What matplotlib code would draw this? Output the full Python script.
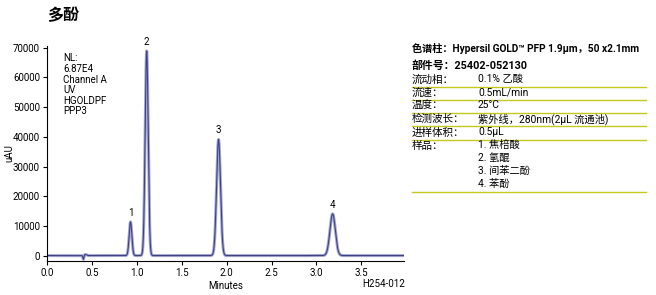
import numpy as np
import matplotlib.pyplot as plt

# peak table
peak_labels = ['1', '2', '3', '4']
peak_times = [0.93, 1.11, 1.91, 3.18]        # min
peak_heights = [11300, 68700, 39000, 14000]  # uAU
peak_widths = [0.015, 0.017, 0.022, 0.030]   # sigma, min

# injection disturbance near 0.41 min
dist_times = [0.405, 0.43]
dist_heights = [-1300, 350]
dist_widths = [0.005, 0.012]

info_lines = ['NL:', '6.87E4', 'Channel A', 'UV', 'HGOLDPF', 'PPP3']

table_header = ['色谱柱：Hypersil GOLD™ PFP 1.9μm，50 x2.1mm',
                '部件号：25402-052130']
table_keys = ['流动相：', '流速：', '温度：', '检测波长：', '进样体积：', '样品：']
table_vals = ['0.1% 乙酸', '0.5mL/min', '25°C', '紫外线，280nm(2μL 流通池)', '0.5μL',
              '1. 焦棓酸\n2. 氢醌\n3. 间苯二酚\n4. 苯酚']

fam = ['Roboto', 'Noto Sans CJK SC', 'DejaVu Sans']
cjk = ['Noto Sans CJK SC', 'DejaVu Sans']

t = np.linspace(0, 3.98, 4000)
y = np.full_like(t, 150.0)
for tc, h, s in zip(peak_times + dist_times, peak_heights + dist_heights,
                    peak_widths + dist_widths):
    y += h * np.exp(-0.5 * ((t - tc) / s) ** 2)

fig = plt.figure(figsize=(6.56, 2.95), dpi=100)
ax = fig.add_axes([0.0716, 0.115, 0.545, 0.73])

ax.plot(t, y, color='#a7a9d2', lw=2.2, solid_capstyle='round')
ax.plot(t, y, color='#3e4282', lw=0.8)

for lab, tc, h in zip(peak_labels, peak_times, peak_heights):
    ax.text(tc, h + 1500, lab, ha='center', va='bottom', fontsize=7, family=fam)

ax.set_xlim(0, 3.98)
ax.set_ylim(-1700, 70600)
ax.set_xticks(np.arange(0, 3.6, 0.5))
ax.set_xticklabels([f'{v:.1f}' for v in np.arange(0, 3.6, 0.5)])
ax.set_yticks(np.arange(0, 70001, 10000))
for s in ['top', 'right']:
    ax.spines[s].set_visible(False)
for s in ['left', 'bottom']:
    ax.spines[s].set_linewidth(0.8)
ax.tick_params(direction='out', length=3, width=0.8, labelsize=7, pad=2)
for lbl in ax.get_xticklabels() + ax.get_yticklabels():
    lbl.set_family(fam)

ax.set_xlabel('Minutes', fontsize=7, family=fam, labelpad=2)
ax.set_ylabel('uAU', fontsize=7, family=fam)
ax.yaxis.set_label_coords(-0.09, 0.5)
fig.text(0.618, 0.02, 'H254-012', ha='right', va='bottom', fontsize=7, family=fam)

ax.text(0.045, 0.965, '\n'.join(info_lines), transform=ax.transAxes, va='top',
        ha='left', fontsize=7, family=fam, linespacing=1.08)

fig.text(47 / 656, 1 - 15 / 295, '多酚', fontsize=11.5, fontweight='bold',
         family=cjk, va='center', ha='left')

# method table
x0, x1, xv = 412 / 656, 646 / 656, 478 / 656
h0 = fig.text(x0, 1 - 48 / 295, table_header[0], fontsize=7.8, fontweight='bold',
              family=fam, va='center')
fig.text(x0, 1 - 66 / 295, table_header[1], fontsize=7.8, fontweight='bold',
         family=fam, va='center')
# shrink the header line so it ends where the rules end
fig.canvas.draw()
w = h0.get_window_extent().width
target = 231
if w > target:
    h0.set_fontsize(7.8 * target / w)

row_y = [80, 93, 106, 119, 133, 146]
line_y = [87, 99.5, 112.5, 126, 139.5, 191.5]
for k, v, ry in zip(table_keys, table_vals, row_y):
    fig.text(x0, 1 - ry / 295, k, fontsize=7.6, family=fam, va='center')
    fig.text(xv, 1 - (ry - 6) / 295, v, fontsize=7.4, family=fam, va='top',
             linespacing=1.37)
for ly in line_y:
    fig.add_artist(plt.Line2D([x0, x1], [1 - ly / 295] * 2, color='#c3c81e',
                              lw=1.0, transform=fig.transFigure))

fig.savefig('out.png', dpi=100)
